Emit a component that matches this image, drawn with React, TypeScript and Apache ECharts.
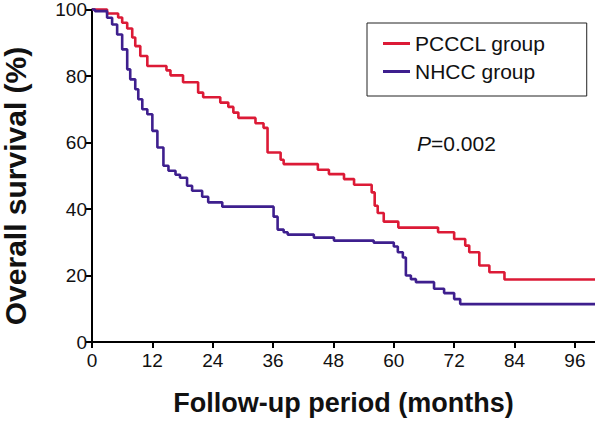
import React, { useEffect, useRef } from 'react';
import * as echarts from 'echarts';

const monthTicks = [0, 12, 24, 36, 48, 60, 72, 84, 96];
const survivalTicks = [0, 20, 40, 60, 80, 100];
const seriesNames = ['PCCCL group', 'NHCC group'];

const pcccTimes = [0, 3.0, 5.2, 6.0, 7.0, 8.0, 8.6, 9.6, 11.0, 14.8, 15.6, 18.1, 21.1, 22.1, 25.5, 27.1, 28.1, 29.1, 32.5, 34.1, 34.9, 37.5, 38.1, 44.9, 47.1, 50.1, 52.1, 55.6, 56.2, 56.8, 58.0, 60.9, 68.8, 72.0, 74.2, 75.0, 77.0, 79.0, 82.0, 100];
const pcccSurv = [100, 98.8, 97.6, 96, 94.3, 91.6, 89, 86, 83, 81.7, 80.2, 78.1, 75, 73.6, 72, 70.7, 69, 67.4, 65.8, 64.4, 57, 54.8, 53.5, 51.8, 50.5, 49, 47.3, 45, 41, 38.8, 36.2, 34.4, 33, 31, 29, 27, 23, 21, 18.8, 18.8];

const nhccTimes = [0, 0.6, 3.0, 4.0, 5.0, 6.0, 7.0, 7.6, 8.6, 9.2, 10.0, 11.0, 12.0, 13.0, 14.2, 15.2, 16.6, 17.5, 18.9, 19.9, 21.9, 23.1, 25.9, 36.1, 36.9, 38.1, 38.9, 44.1, 48.1, 56.0, 60.0, 60.8, 61.8, 62.4, 63.4, 64.4, 68.0, 70.0, 72.0, 73.2, 100];
const nhccSurv = [100, 99.5, 97.5, 95.5, 92.5, 88, 82, 79, 76, 73, 70, 68.5, 63.5, 58.5, 53, 51.5, 50.3, 49.4, 47, 45.5, 43.7, 42, 40.7, 37.7, 33.8, 33, 32.3, 31.4, 30.5, 29.9, 28.7, 27, 25.4, 20, 18.9, 18, 16, 14.7, 12.9, 11.4, 11.4];

const pValueText = '=0.002';
const xTitle = 'Follow-up period (months)';
const yTitle = 'Overall survival (%)';

const FONT = '"Liberation Sans", Arial, Helvetica, sans-serif';
const RED = '#dc1a36';
const PURPLE = '#3e1f8e';

export default function App() {
  const ref = useRef<HTMLDivElement>(null);

  useEffect(() => {
    document.body.style.margin = '0';
    if (!ref.current) return;
    const chart = echarts.init(ref.current, undefined, { renderer: 'svg' });
    const toData = (t: number[], s: number[]) => t.map((v, i) => [v, s[i]]);
    const axisCommon = {
      axisLine: { show: true, lineStyle: { color: '#000', width: 2 } },
      axisTick: { show: true, length: 6, lineStyle: { color: '#000', width: 2 } },
      splitLine: { show: false },
    };
    chart.setOption({
      animation: false,
      backgroundColor: '#fff',
      textStyle: { fontFamily: FONT },
      grid: { left: 92, right: 0, top: 8, bottom: 78, containLabel: false },
      legend: {
        orient: 'vertical',
        left: 367,
        top: 23,
        padding: [10, 41, 14, 16],
        itemGap: 7,
        itemWidth: 27,
        itemHeight: 3,
        icon: 'rect',
        borderColor: '#222',
        borderWidth: 1,
        data: seriesNames,
        textStyle: { fontSize: 21, color: '#111', fontFamily: FONT },
      },
      xAxis: {
        type: 'value',
        min: 0,
        max: 100,
        interval: 12,
        ...axisCommon,
        axisTick: { ...axisCommon.axisTick, customValues: monthTicks },
        axisLabel: { customValues: monthTicks, fontSize: 19, color: '#111', margin: 9, fontFamily: FONT },
        name: xTitle,
        nameLocation: 'middle',
        nameGap: 47,
        nameTextStyle: { fontSize: 27, fontWeight: 'bold', color: '#111', fontFamily: FONT },
      },
      yAxis: {
        type: 'value',
        min: 0,
        max: 100,
        interval: 20,
        ...axisCommon,
        axisTick: { ...axisCommon.axisTick, customValues: survivalTicks },
        axisLabel: { customValues: survivalTicks, fontSize: 19, color: '#111', margin: 5, fontFamily: FONT },
      },
      graphic: [
        {
          type: 'text',
          x: 15,
          y: 186,
          rotation: Math.PI / 2,
          style: {
            text: yTitle,
            align: 'center',
            verticalAlign: 'middle',
            fontSize: 30,
            fontWeight: 'bold',
            fontFamily: FONT,
            fill: '#111',
          },
        },
        {
          type: 'text',
          left: 417,
          top: 133,
          style: {
            text: '{i|P}{n|' + pValueText + '}',
            fill: '#111',
            rich: {
              i: { fontStyle: 'italic', fontSize: 21, fontFamily: FONT, fill: '#111' },
              n: { fontSize: 21, fontFamily: FONT, fill: '#111' },
            },
          },
        },
      ],
      series: [
        {
          name: seriesNames[0],
          type: 'line',
          step: 'end',
          symbol: 'none',
          clip: false,
          data: toData(pcccTimes, pcccSurv),
          lineStyle: { color: RED, width: 2.6 },
          itemStyle: { color: RED },
        },
        {
          name: seriesNames[1],
          type: 'line',
          step: 'end',
          symbol: 'none',
          clip: false,
          data: toData(nhccTimes, nhccSurv),
          lineStyle: { color: PURPLE, width: 2.6 },
          itemStyle: { color: PURPLE },
        },
      ],
    });
    return () => chart.dispose();
  }, []);

  return <div ref={ref} style={{ width: 595, height: 421, position: 'absolute', left: 0, top: 0 }} />;
}
